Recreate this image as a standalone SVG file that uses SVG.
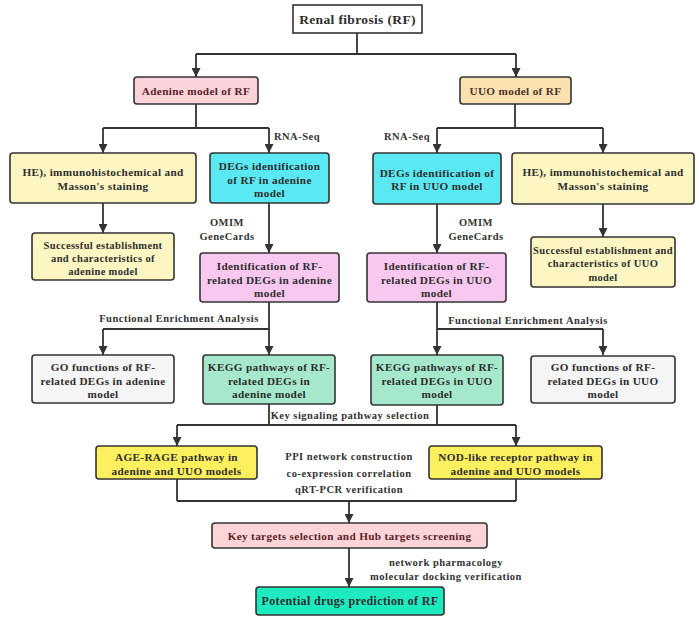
<svg xmlns="http://www.w3.org/2000/svg" width="699" height="620" viewBox="0 0 699 620">
<defs>
<marker id="ah" viewBox="0 0 10 10" refX="10" refY="5" markerWidth="9" markerHeight="9" markerUnits="userSpaceOnUse" orient="auto"><path d="M0,0 L10,5 L0,10 z" fill="#333"/></marker>
<style>
.b{stroke:#333;stroke-width:1.6}
.t{font-family:"Liberation Serif","Times New Roman",serif;font-weight:bold;font-size:11.2px;letter-spacing:0.35px;fill:#2e2e2e;text-anchor:middle}
.l{font-family:"Liberation Serif","Times New Roman",serif;font-weight:bold;font-size:10.5px;letter-spacing:0.5px;fill:#333;text-anchor:middle}
.c{fill:none;stroke:#333;stroke-width:1.8}
.a{marker-end:url(#ah)}
</style>
</defs>
<rect width="699" height="620" fill="#fff"/>
<g id="connectors">
<path class="c" d="M357,33 V54 M196,54 H516"/>
<path class="c a" d="M196,54 V77"/>
<path class="c a" d="M516,54 V77"/>
<path class="c" d="M196,104 V128 M103,128 H269"/>
<path class="c a" d="M103,128 V153"/>
<path class="c a" d="M269,128 V153"/>
<path class="c" d="M515,104 V128 M437,128 H603"/>
<path class="c a" d="M437,128 V153"/>
<path class="c a" d="M603,128 V153"/>
<path class="c a" d="M103,203 V233"/>
<path class="c a" d="M269,203 V253"/>
<path class="c a" d="M437,204 V253"/>
<path class="c a" d="M603,204 V237"/>
<path class="c a" d="M269,302 V355"/>
<path class="c" d="M103,329 H269"/>
<path class="c a" d="M103,329 V355"/>
<path class="c a" d="M437,302 V355"/>
<path class="c" d="M437,329 H603"/>
<path class="c a" d="M603,329 V355"/>
<path class="c" d="M269,404 V425 M437,405 V425 M177,425 H516"/>
<path class="c a" d="M177,425 V446"/>
<path class="c a" d="M516,425 V446"/>
<path class="c" d="M177,479 V501 M516,479 V501 M177,501 H516"/>
<path class="c a" d="M349,501 V523"/>
<path class="c a" d="M349,548 V587"/>
</g>
<g id="labels">
<text class="l" x="297" y="140">RNA-Seq</text>
<text class="l" x="407" y="140">RNA-Seq</text>
<text class="l" x="227" y="226">OMIM</text>
<text class="l" x="227" y="240">GeneCards</text>
<text class="l" x="476" y="226">OMIM</text>
<text class="l" x="476" y="240">GeneCards</text>
<text class="l" x="179" y="322">Functional Enrichment Analysis</text>
<text class="l" x="528" y="324">Functional Enrichment Analysis</text>
<text class="l" x="350" y="419">Key signaling pathway selection</text>
<text class="l" x="349" y="460">PPI network construction</text>
<text class="l" x="349" y="477">co-expression correlation</text>
<text class="l" x="349" y="493">qRT-PCR verification</text>
<text class="l" x="446" y="566">network pharmacology</text>
<text class="l" x="446" y="580">molecular docking verification</text>
</g>
<g id="n-rf"><rect class="b" x="293" y="5" width="129" height="28" fill="#fff"/><text class="t" style="font-size:13.5px" x="357.5" y="24">Renal fibrosis (RF)</text></g>
<g id="n-adenine"><rect class="b" x="134" y="77" width="124" height="27" rx="3" fill="#fbd3da"/><text class="t" style="fill:#5a2228" x="196" y="95">Adenine model of RF</text></g>
<g id="n-uuo"><rect class="b" x="460" y="77" width="111" height="27" rx="3" fill="#fde0b0"/><text class="t" style="fill:#4a3526" x="515.5" y="95">UUO model of RF</text></g>
<g id="n-he-l"><rect class="b" x="10" y="153" width="186" height="50" rx="3" fill="#fdf6c3"/><text class="t" x="103" y="176">HE), immunohistochemical and</text><text class="t" x="103" y="190">Masson's staining</text></g>
<g id="n-deg-l"><rect class="b" x="210" y="153" width="119" height="50" rx="3" fill="#5ae8f2"/><text class="t" x="269.5" y="170">DEGs identification</text><text class="t" x="269.5" y="184">of RF in adenine</text><text class="t" x="269.5" y="197">model</text></g>
<g id="n-deg-r"><rect class="b" x="373" y="153" width="128" height="51" rx="3" fill="#5ae8f2"/><text class="t" x="437" y="177">DEGs identification of</text><text class="t" x="437" y="190">RF in UUO model</text></g>
<g id="n-he-r"><rect class="b" x="512" y="153" width="182" height="51" rx="3" fill="#fdf6c3"/><text class="t" x="603" y="176">HE), immunohistochemical and</text><text class="t" x="603" y="190">Masson's staining</text></g>
<g id="n-succ-l"><rect class="b" x="32" y="233" width="142" height="47" rx="3" fill="#fdf6c3"/><text class="t" style="font-size:10.5px" x="103" y="249">Successful establishment</text><text class="t" style="font-size:10.5px" x="103" y="262">and characteristics of</text><text class="t" style="font-size:10.5px" x="103" y="275">adenine model</text></g>
<g id="n-succ-r"><rect class="b" x="531" y="237" width="144" height="50" rx="3" fill="#fdf6c3"/><text class="t" style="font-size:10.5px" x="603" y="254">Successful establishment and</text><text class="t" style="font-size:10.5px" x="603" y="267">characteristics of UUO</text><text class="t" style="font-size:10.5px" x="603" y="281">model</text></g>
<g id="n-id-l"><rect class="b" x="200" y="253" width="139" height="49" rx="3" fill="#f9c8f0"/><text class="t" x="269.5" y="270">Identification of RF-</text><text class="t" x="269.5" y="284">related DEGs in adenine</text><text class="t" x="269.5" y="297">model</text></g>
<g id="n-id-r"><rect class="b" x="367" y="253" width="139" height="49" rx="3" fill="#f9c8f0"/><text class="t" x="436.5" y="270">Identification of RF-</text><text class="t" x="436.5" y="284">related DEGs  in UUO</text><text class="t" x="436.5" y="297">model</text></g>
<g id="n-go-l"><rect class="b" x="32" y="355" width="142" height="48" rx="3" fill="#f5f5f5"/><text class="t" x="103" y="371">GO functions of  RF-</text><text class="t" x="103" y="385">related DEGs in adenine</text><text class="t" x="103" y="398">model</text></g>
<g id="n-kegg-l"><rect class="b" x="203" y="355" width="132" height="49" rx="3" fill="#a6e8cb"/><text class="t" x="269" y="371">KEGG pathways of RF-</text><text class="t" x="269" y="385">related DEGs in</text><text class="t" x="269" y="398">adenine model</text></g>
<g id="n-kegg-r"><rect class="b" x="371" y="355" width="132" height="50" rx="3" fill="#a6e8cb"/><text class="t" x="437" y="371">KEGG pathways of RF-</text><text class="t" x="437" y="385">related DEGs in UUO</text><text class="t" x="437" y="398">model</text></g>
<g id="n-go-r"><rect class="b" x="531" y="356" width="144" height="47" rx="3" fill="#f5f5f5"/><text class="t" x="603" y="371">GO functions of  RF-</text><text class="t" x="603" y="385">related DEGs in UUO</text><text class="t" x="603" y="398">model</text></g>
<g id="n-age"><rect class="b" x="96" y="446" width="161" height="33" rx="3" fill="#fdf05e"/><text class="t" x="176.5" y="461">AGE-RAGE pathway in</text><text class="t" x="176.5" y="475">adenine and UUO models</text></g>
<g id="n-nod"><rect class="b" x="429" y="446" width="173" height="33" rx="3" fill="#fdf05e"/><text class="t" x="515.5" y="461">NOD-like receptor pathway in</text><text class="t" x="515.5" y="475">adenine and UUO models</text></g>
<g id="n-key"><rect class="b" x="212" y="523" width="275" height="25" rx="3" fill="#fdd5d8"/><text class="t" style="fill:#5a2228" x="349.5" y="540">Key targets selection and Hub  targets screening</text></g>
<g id="n-drug"><rect class="b" x="256" y="587" width="188" height="28" rx="3" fill="#1eeac0"/><text class="t" style="font-size:12px" x="350" y="605">Potential drugs prediction of RF</text></g>
</svg>
